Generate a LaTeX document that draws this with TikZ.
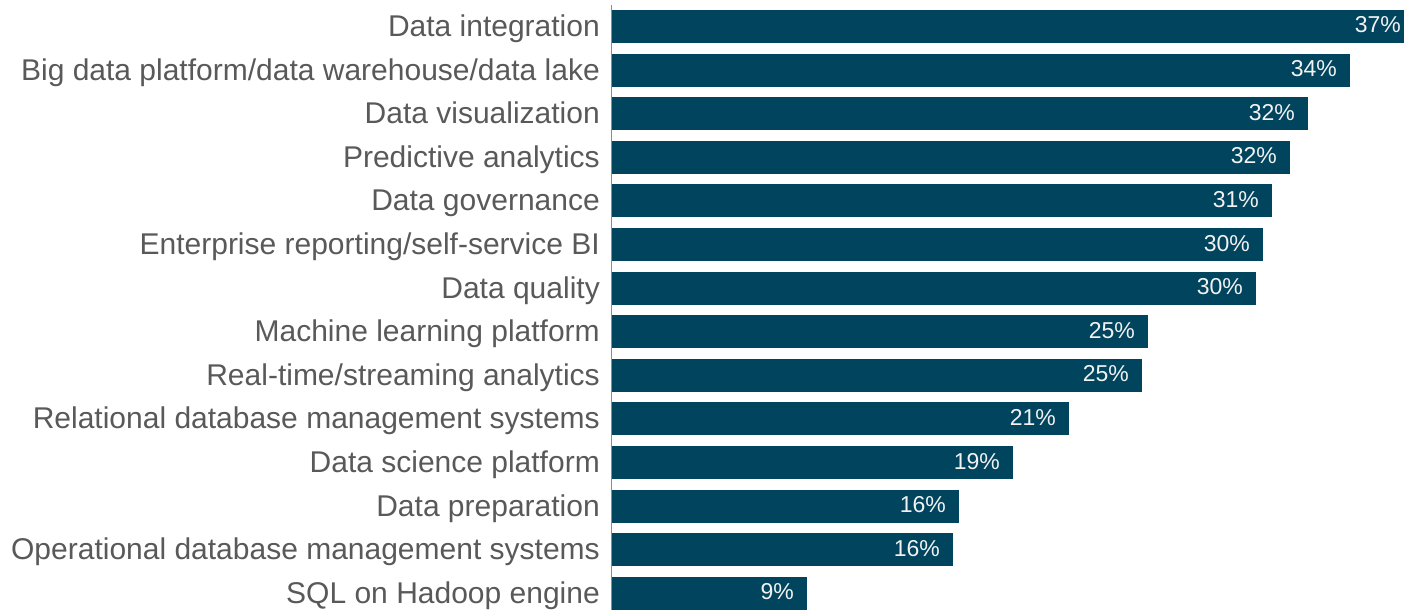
\documentclass[tikz,border=0pt]{standalone}
\usepackage{fontspec}
\setmainfont{Liberation Sans}
\definecolor{barcol}{HTML}{00445E}
\definecolor{labcol}{HTML}{595959}
\definecolor{valcol}{HTML}{F2F2F2}
\definecolor{axcol}{HTML}{8C8C8C}
\tikzset{
  barbox/.style={fill=barcol, draw=none, inner sep=0pt, outer sep=0pt, minimum height=33pt, anchor=north west},
  labtxt/.style={text=labcol, font=\fontsize{30}{30}\selectfont, inner sep=0pt, anchor=base east},
  valtxt/.style={text=valcol, font=\fontsize{23}{23}\selectfont, inner sep=0pt, anchor=base east},
  axisline/.style={draw=axcol, line width=1pt}
}
\newcommand\mybar[4]{%
  \pgfmathsetmacro\bt{10+43.6*(#1-1)}%
  \pgfmathsetmacro\lb{36.5+43.6*(#1-1)}%
  \pgfmathsetmacro\bw{#2-612}%
  \node[barbox, minimum width=\bw pt] (b#1) at (612,\bt) {};
  \node[valtxt] (v#1) at ([xshift=-13pt, yshift=-23pt]b#1.north east) {#3\%};
  \node[labtxt] (l#1) at (600,\lb) {#4};
}
\begin{document}
\begin{tikzpicture}[x=1pt,y=-1pt]
\useasboundingbox (0,0) rectangle (1404,610);
\coordinate (axtop) at (611.5,5);
\coordinate (axbot) at (611.5,610);
\draw[axisline] (axtop) -- (axbot);
\mybar{1}{1414}{37}{Data integration}
\mybar{2}{1350}{34}{Big data platform/data warehouse/data lake}
\mybar{3}{1308}{32}{Data visualization}
\mybar{4}{1290}{32}{Predictive analytics}
\mybar{5}{1272}{31}{Data governance}
\mybar{6}{1263}{30}{Enterprise reporting/self-service BI}
\mybar{7}{1256}{30}{Data quality}
\mybar{8}{1148}{25}{Machine learning platform}
\mybar{9}{1142}{25}{Real-time/streaming analytics}
\mybar{10}{1069}{21}{Relational database management systems}
\mybar{11}{1013}{19}{Data science platform}
\mybar{12}{959}{16}{Data preparation}
\mybar{13}{953}{16}{Operational database management systems}
\mybar{14}{807}{9}{SQL on Hadoop engine}
\end{tikzpicture}
\end{document}
